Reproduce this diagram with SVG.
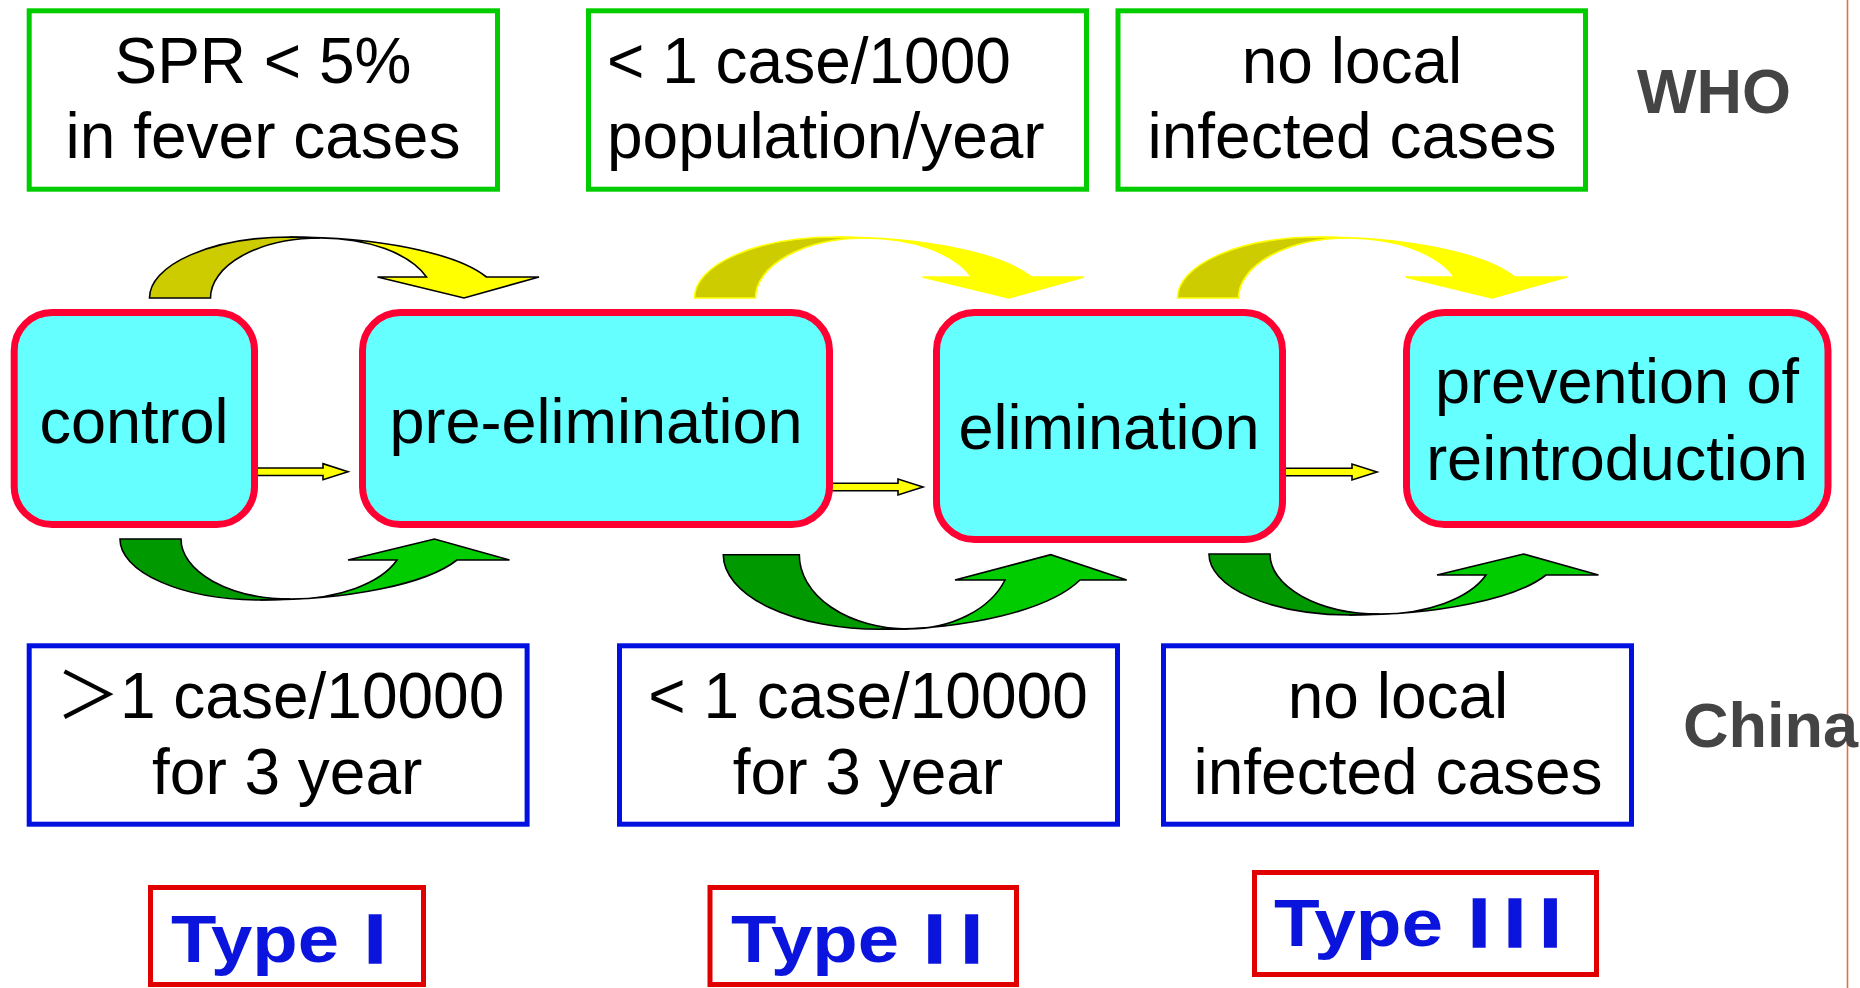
<svg xmlns="http://www.w3.org/2000/svg" width="1860" height="988" viewBox="0 0 1860 988">
<style>
text{font-family:"Liberation Sans",Arial,"Noto Sans CJK SC",sans-serif;}
.crit{fill:#fff;stroke-width:5;}
.who{stroke:#00CC00;}
.cn{stroke:#0010E0;}
.t64{font-size:64px;fill:#000;}
.stage{fill:#66FFFF;stroke:#FF0033;stroke-width:7;}
.t63{font-size:63px;fill:#000;text-anchor:middle;}
.lab{font-size:63px;font-weight:bold;fill:#444444;}
.typebox{fill:#fff;stroke:#E00000;stroke-width:5;}
.type{font-size:66px;font-weight:bold;fill:#0A14DC;}
.num{stroke:#0A14DC;stroke-width:3.5;}
.sm{fill:#FFFF00;stroke:#000;stroke-width:1.6;stroke-linejoin:miter;}
.olive{fill:#CCCC00;}
.yel{fill:#FFFF00;}
.dg{fill:#009900;}
.lg{fill:#00CC00;}
.blk path{stroke:#000;stroke-width:1.6;}
.ys path{stroke:#FFFF00;stroke-width:1.6;}
</style>
<defs>
<path id="sa" d="M0,-3.75 L68,-3.75 L68,-8 L93,0 L68,8 L68,3.75 L0,3.75 Z"/>
</defs>
<rect width="1860" height="988" fill="#fff"/>
<line x1="1847.5" y1="0" x2="1847.5" y2="988" stroke="#E07040" stroke-width="1.6"/>

<g id="connectors">
  <g class="blk">
    <path class="olive" d="M149.5,298 A140.5,61 0 0 1 290,237 L320,238 A109.5,60 0 0 0 210.5,298 Z"/>
    <path class="yel" d="M290,237 A209,61 0 0 1 486.5,277 L539,277 L464,298 L377.5,277 L426.5,277 A113,60 0 0 0 320,238 Z"/>
  </g>
  <g class="ys" transform="translate(545,0)">
    <path class="olive" d="M149.5,298 A140.5,61 0 0 1 290,237 L320,238 A109.5,60 0 0 0 210.5,298 Z"/>
    <path class="yel" d="M290,237 A209,61 0 0 1 486.5,277 L539,277 L464,298 L377.5,277 L426.5,277 A113,60 0 0 0 320,238 Z"/>
  </g>
  <g class="ys" transform="translate(1028,0)">
    <path class="olive" d="M149.5,298 A140.5,61 0 0 1 290,237 L320,238 A109.5,60 0 0 0 210.5,298 Z"/>
    <path class="yel" d="M290,237 A209,61 0 0 1 486.5,277 L539,277 L464,298 L377.5,277 L426.5,277 A113,60 0 0 0 320,238 Z"/>
  </g>
  <g class="blk" transform="translate(-29.5,837) scale(1,-1)">
    <path class="dg" d="M149.5,298 A140.5,61 0 0 1 290,237 L320,238 A109.5,60 0 0 0 210.5,298 Z"/>
    <path class="lg" d="M290,237 A209,61 0 0 1 486.5,277 L539,277 L464,298 L377.5,277 L426.5,277 A113,60 0 0 0 320,238 Z"/>
  </g>
  <g class="blk">
    <path class="dg" d="M723.3,554.7 A156.7,74.6 0 0 0 880,629.3 L908.3,629 A109,74.3 0 0 1 799.3,554.7 Z"/>
    <path class="lg" d="M880,629.3 A212.6,74.6 0 0 0 1080,580 L1126.7,580 L1050.7,554.7 L955,580 L1005,580 A102.9,74.3 0 0 1 908.3,629 Z"/>
  </g>
  <g class="blk" transform="translate(1059.5,852) scale(1,-1)">
    <path class="dg" d="M149.5,298 A140.5,61 0 0 1 290,237 L320,238 A109.5,60 0 0 0 210.5,298 Z"/>
    <path class="lg" d="M290,237 A209,61 0 0 1 486.5,277 L539,277 L464,298 L377.5,277 L426.5,277 A113,60 0 0 0 320,238 Z"/>
  </g>
  <use href="#sa" class="sm" transform="translate(255,471.7)"/>
  <use href="#sa" class="sm" transform="translate(830,487)"/>
  <use href="#sa" class="sm" transform="translate(1284,472)"/>
</g>

<g id="who-1">
  <rect class="crit who" x="29.2" y="10.8" width="468.3" height="178.4"/>
  <text class="t64" x="263" y="83" text-anchor="middle">SPR &lt; 5%</text>
  <text class="t64" x="263" y="158" text-anchor="middle">in fever cases</text>
</g>
<g id="who-2">
  <rect class="crit who" x="588.5" y="10.8" width="498" height="178.4"/>
  <text class="t64" x="607" y="83">&lt; 1 case/1000</text>
  <text class="t64" x="607" y="158">population/year</text>
</g>
<g id="who-3">
  <rect class="crit who" x="1118" y="10.8" width="467.5" height="178.4"/>
  <text class="t64" x="1352" y="83" text-anchor="middle">no local</text>
  <text class="t64" x="1352" y="158" text-anchor="middle">infected cases</text>
</g>
<g id="label-who"><text class="lab" x="1637" y="113">WHO</text></g>

<g id="control">
  <rect class="stage" x="14.2" y="312.5" width="240.3" height="212" rx="38" ry="38"/>
  <text class="t63" x="134" y="443">control</text>
</g>
<g id="pre-elimination">
  <rect class="stage" x="362.5" y="312.5" width="467" height="212" rx="38" ry="38"/>
  <text class="t63" x="596" y="443">pre-elimination</text>
</g>
<g id="elimination">
  <rect class="stage" x="936.5" y="312.5" width="346" height="227" rx="38" ry="38"/>
  <text class="t63" x="1109" y="449">elimination</text>
</g>
<g id="prevention">
  <rect class="stage" x="1406.5" y="312.5" width="421.5" height="212" rx="38" ry="38"/>
  <text class="t63" x="1617" y="403">prevention of</text>
  <text class="t63" x="1617" y="480">reintroduction</text>
</g>

<g id="china-1">
  <rect class="crit cn" x="29.2" y="645.8" width="497.9" height="178.4"/>
  <text class="t64" x="56" y="718">＞1 case/10000</text>
  <text class="t64" x="152" y="794">for 3 year</text>
</g>
<g id="china-2">
  <rect class="crit cn" x="619.5" y="645.8" width="498" height="178.4"/>
  <text class="t64" x="868" y="718" text-anchor="middle">&lt; 1 case/10000</text>
  <text class="t64" x="868" y="794" text-anchor="middle">for 3 year</text>
</g>
<g id="china-3">
  <rect class="crit cn" x="1163.5" y="645.8" width="468" height="178.4"/>
  <text class="t64" x="1398" y="718" text-anchor="middle">no local</text>
  <text class="t64" x="1398" y="794" text-anchor="middle">infected cases</text>
</g>
<g id="label-china"><text class="lab" x="1683" y="747">China</text></g>

<g id="type-1">
  <rect class="typebox" x="150.5" y="887.5" width="273" height="97"/>
  <text class="type" y="962"><tspan x="171" textLength="168" lengthAdjust="spacingAndGlyphs">Type</tspan><tspan class="num" x="366">I</tspan></text>
</g>
<g id="type-2">
  <rect class="typebox" x="710" y="887.5" width="306.5" height="97"/>
  <text class="type" y="962"><tspan x="731" textLength="168" lengthAdjust="spacingAndGlyphs">Type</tspan><tspan class="num" x="925.4" letter-spacing="18.7">II</tspan></text>
</g>
<g id="type-3">
  <rect class="typebox" x="1254.5" y="872.5" width="342" height="102"/>
  <text class="type" y="946"><tspan x="1274" textLength="169" lengthAdjust="spacingAndGlyphs">Type</tspan><tspan class="num" x="1470" letter-spacing="17.3">III</tspan></text>
</g>
</svg>
